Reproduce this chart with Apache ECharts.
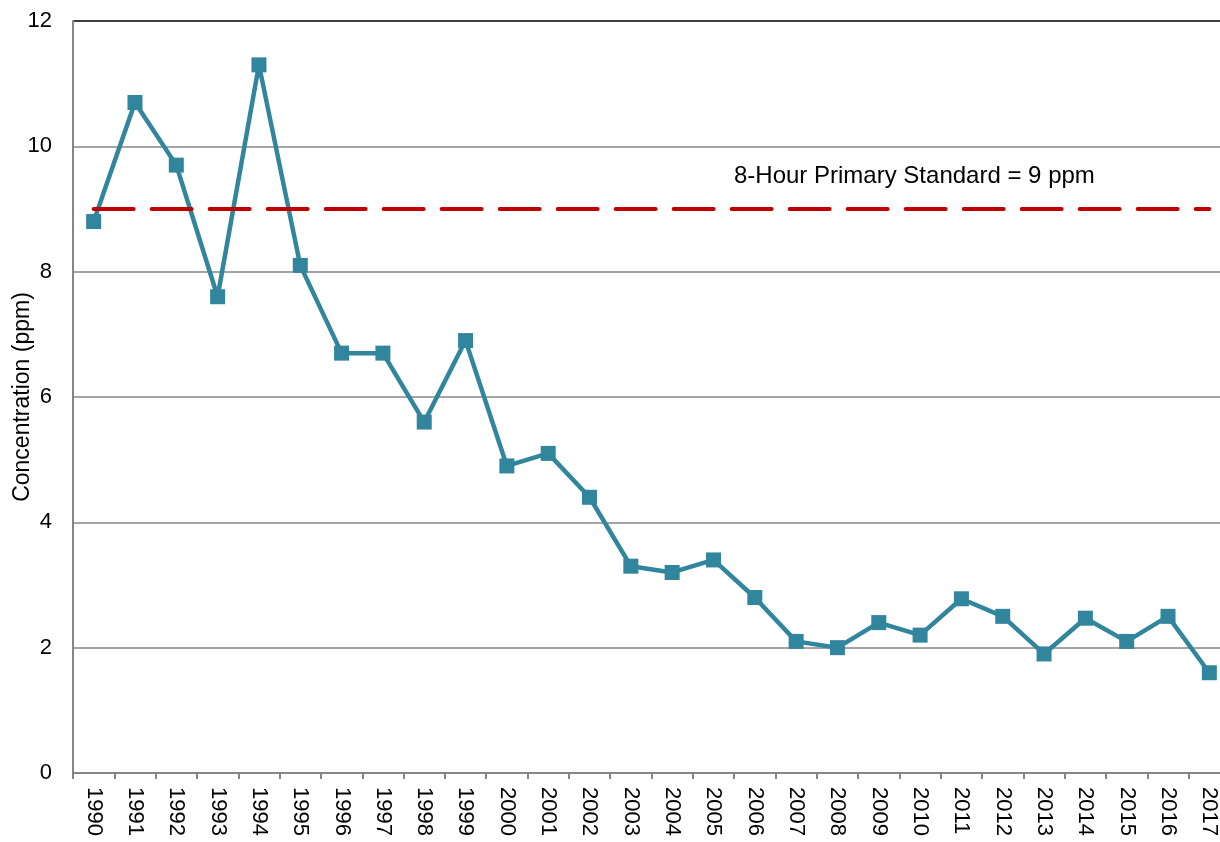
<!DOCTYPE html>
<html>
<head>
<meta charset="utf-8">
<script src="https://cdn.jsdelivr.net/npm/echarts@6/dist/echarts.min.js"></script>
<style>
html, body { margin: 0; padding: 0; background: #fff; }
#content { width: 1220px; height: 842px; }
</style>
</head>
<body>
<div id="content"></div>
<script>
// 数据
var years = ['1990', '1991', '1992', '1993', '1994', '1995', '1996', '1997', '1998', '1999',
    '2000', '2001', '2002', '2003', '2004', '2005', '2006', '2007', '2008', '2009',
    '2010', '2011', '2012', '2013', '2014', '2015', '2016', '2017'];
var concentration = [8.8, 10.7, 9.7, 7.6, 11.3, 8.1, 6.7, 6.7, 5.6, 6.9,
    4.9, 5.1, 4.4, 3.3, 3.2, 3.4, 2.8, 2.1, 2.0, 2.4,
    2.2, 2.78, 2.5, 1.9, 2.47, 2.1, 2.5, 1.6];
var standard = 9;
var standardLabel = '8-Hour Primary Standard = 9 ppm';
var yTicks = [0, 2, 4, 6, 8, 10, 12];

var myChart = echarts.init(document.getElementById('content'));
var font = 'Liberation Sans, Arial, sans-serif';

myChart.setOption({
    animation: false,
    grid: {
        left: 73,
        right: -10,
        top: 21,
        bottom: 69,
        containLabel: false,
        outerBoundsMode: 'none'
    },
    graphic: [{
        type: 'text',
        left: 734,
        top: 164,
        style: {
            text: standardLabel,
            font: '24px ' + font,
            fill: '#000'
        }
    }],
    //X轴
    xAxis: {
        type: 'category',
        data: years,
        boundaryGap: true,
        axisLine: { lineStyle: { color: '#868686', width: 2 } },
        axisTick: { show: true, length: 6, lineStyle: { color: '#868686', width: 2 } },
        axisLabel: {
            rotate: -90,
            interval: 0,
            margin: 14,
            color: '#000',
            fontSize: 22,
            fontFamily: font
        }
    },
    //Y轴
    yAxis: {
        type: 'value',
        min: yTicks[0],
        max: yTicks[yTicks.length - 1],
        interval: 2,
        name: 'Concentration (ppm)',
        nameLocation: 'middle',
        nameRotate: 90,
        nameGap: 39,
        nameMoveOverlap: false,
        nameTextStyle: { color: '#000', fontSize: 23, fontFamily: font },
        axisLine: { show: true, lineStyle: { color: '#868686', width: 2 } },
        axisTick: { show: false },
        axisLabel: { color: '#000', fontSize: 22, fontFamily: font, margin: 21 },
        splitLine: {
            lineStyle: {
                color: ['#868686', '#868686', '#868686', '#868686', '#868686', '#868686', '#000'],
                width: 1.5
            }
        }
    },
    series: [{
        name: 'Concentration',
        type: 'line',
        data: concentration,
        symbol: 'rect',
        symbolSize: 15,
        itemStyle: { color: '#31859c' },
        lineStyle: { color: '#31859c', width: 4.5 },
        markLine: {
            silent: true,
            symbol: 'none',
            label: { show: false },
            lineStyle: {
                color: '#c00000',
                width: 4,
                type: [40, 18],
                cap: 'round'
            },
            data: [[
                { coord: [years[0], standard] },
                { coord: [years[years.length - 1], standard] }
            ]]
        }
    }]
});
</script>
</body>
</html>
